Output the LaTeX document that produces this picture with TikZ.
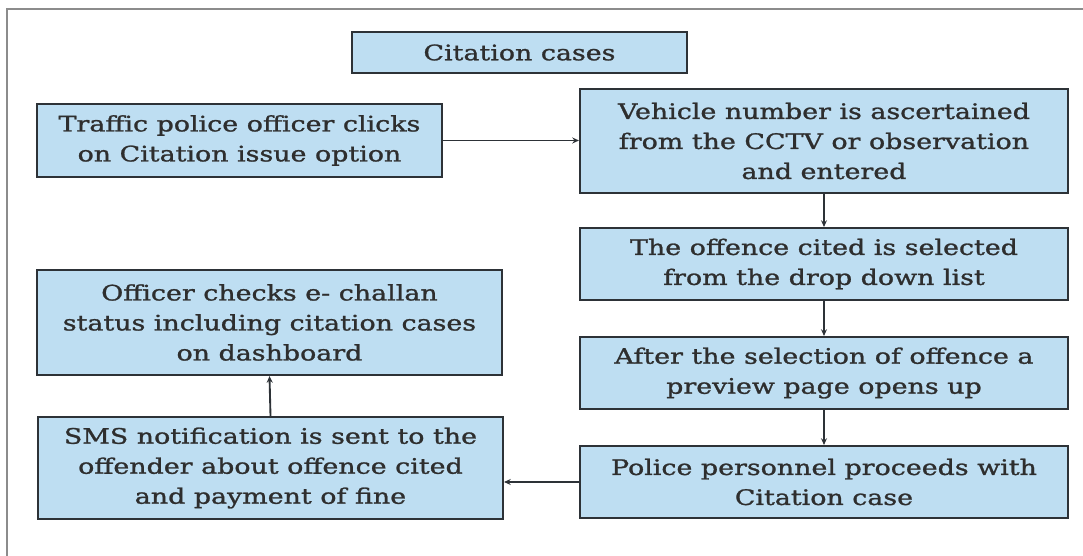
\documentclass[tikz,border=0pt]{standalone}
\usepackage{fontspec}
\setmainfont{DejaVu Serif}[FakeStretch=1.26,FakeBold=1.2]
\usetikzlibrary{arrows.meta}
\definecolor{boxfill}{RGB}{190,222,242}
\definecolor{boxline}{RGB}{45,50,55}
\definecolor{framegray}{RGB}{140,140,140}
\tikzset{
  flowbox/.style={draw=boxline, line width=1.6pt, fill=boxfill, align=center,
    inner sep=0pt, font=\fontsize{16}{22.5}\selectfont, text=black!82},
  flowarrow/.style={draw=boxline, line width=1.4pt, -{Stealth[length=5pt,width=4.5pt]}}
}
\begin{document}
\begin{tikzpicture}[x=0.75pt,y=-0.75pt]
\useasboundingbox (0,0) rectangle (1083,556);
\draw[framegray, line width=1.5pt] (7,556) -- (7,9) -- (1083,9);

\node[flowbox, minimum width=335*0.75pt, minimum height=41*0.75pt] (title) at (519.5,52.5) {Citation cases};
\node[flowbox, minimum width=405*0.75pt, minimum height=73*0.75pt] (a) at (239.5,140.5) {Traffic police officer clicks\\on Citation issue option};
\node[flowbox, minimum width=488*0.75pt, minimum height=104*0.75pt] (b) at (824,141) {Vehicle number is ascertained\\from the CCTV or observation\\and entered};
\node[flowbox, minimum width=488*0.75pt, minimum height=72*0.75pt] (c) at (824,264) {The offence cited is selected\\from the drop down list};
\node[flowbox, minimum width=488*0.75pt, minimum height=72*0.75pt] (d) at (824,373) {After the selection of offence a\\preview page opens up};
\node[flowbox, minimum width=488*0.75pt, minimum height=72*0.75pt] (e) at (824,482) {Police personnel proceeds with\\Citation case};
\node[flowbox, minimum width=465*0.75pt, minimum height=105*0.75pt] (f) at (269.5,322.5) {Officer checks e- challan\\status including citation cases\\on dashboard};
\node[flowbox, minimum width=465*0.75pt, minimum height=102*0.75pt] (g) at (270.5,468) {SMS notification is sent to the\\offender about offence cited\\and payment of fine};

\draw[flowarrow] (a.east) -- (a.east -| b.west);
\draw[flowarrow] (b.south) -- (c.north);
\draw[flowarrow] (c.south) -- (d.north);
\draw[flowarrow] (d.south) -- (e.north);
\draw[flowarrow] (e.west) -- (e.west -| g.east);
\draw[flowarrow] (g.north) -- (f.south);
\end{tikzpicture}
\end{document}
